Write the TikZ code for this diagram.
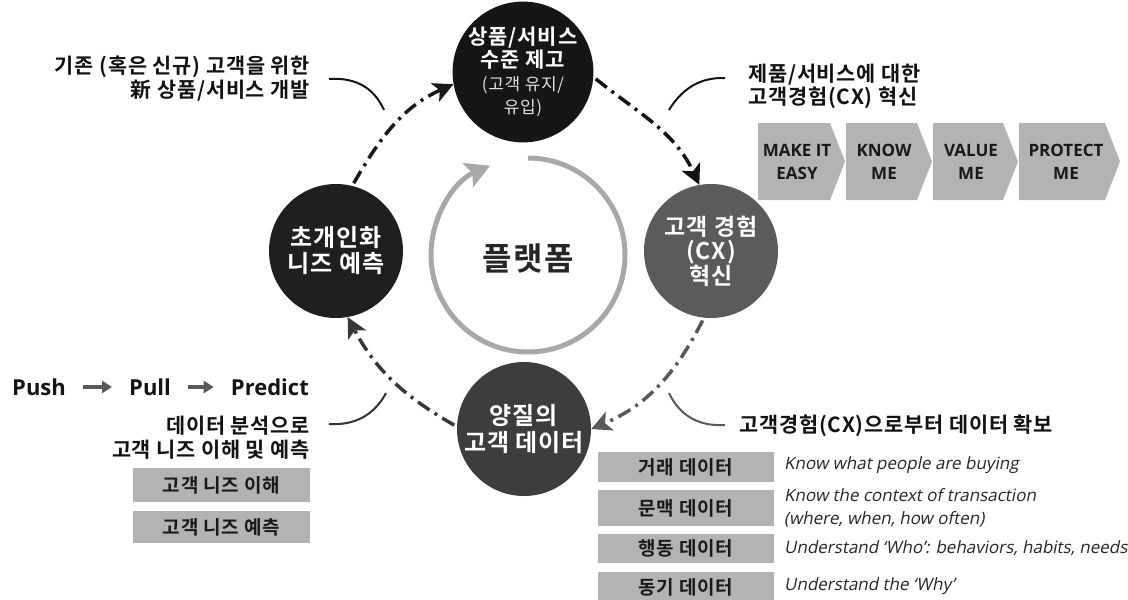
\documentclass[tikz,border=0pt]{standalone}
\usepackage{fontspec}
\setmainfont{Noto Sans CJK KR}[BoldFont={Noto Sans CJK KR Bold}, LetterSpace=4]
\newfontfamily\enfont{Open Sans}
\newfontfamily\slfont{Open Sans}[FakeSlant=0.2]
\usetikzlibrary{arrows.meta}
\definecolor{topfill}{HTML}{151515}
\definecolor{leftfill}{HTML}{1F1F1F}
\definecolor{rightfill}{HTML}{5B5B5B}
\definecolor{bottomfill}{HTML}{3D3D3D}
\definecolor{boxgray}{HTML}{B3B3B3}
\definecolor{innergray}{HTML}{A8A8A8}
\begin{document}
\begin{tikzpicture}[x=1pt,y=1pt,
 circ/.style={circle, minimum size=134pt, inner sep=0pt, text=white, align=center},
 cyc/.style={line width=3.5pt, dash pattern=on 14pt off 6pt on 3pt off 6pt, -{Stealth[length=20pt,width=20pt,inset=5pt]}, shorten <=3pt},
 lead/.style={line width=2pt},
 ann/.style={inner sep=0pt, font=\bfseries\fontsize{20.8}{23.5}\selectfont, text=black!93},
 gbox/.style={fill=boxgray, inner sep=0pt, font=\bfseries\fontsize{19}{22}\selectfont, text=black!90},
 itx/.style={inner sep=0pt, anchor=west, align=left, font=\slfont\fontsize{17}{23}\selectfont, text=black!85},
 chev/.style={fill=boxgray},
 chevtext/.style={inner sep=0pt, align=center, font=\enfont\bfseries\fontsize{17}{23}\selectfont, text=black!90},
 pp/.style={inner sep=0pt, font=\enfont\bfseries\fontsize{22}{26}\selectfont, text=black!92},
 pparrow/.style={line width=4pt, draw=black!65, -{Triangle[length=10pt,width=12pt]}, shorten <=17pt, shorten >=17pt}
]
\fill[white] (0,0) rectangle (1128,-600);
\useasboundingbox (0,0) rectangle (1128,-600);

% inner platform cycle
\draw[line width=5pt, draw=innergray, -{Stealth[length=24pt,width=26pt,inset=5pt]}] (528,-158) arc[start angle=90, end angle=-247, radius=97];
\node[font=\bfseries\fontsize{32}{36}\selectfont, text=black!85] (plat) at (528,-258) {플랫폼};

% main circles
\node[circ, fill=topfill, font=\bfseries\fontsize{21}{23}\selectfont] (top) at (523,-72)
  {상품/서비스\\수준 제고\\{\mdseries\fontsize{17}{23}\selectfont\color{white!88!black}(고객 유지/}\\{\mdseries\fontsize{17}{23}\selectfont\color{white!88!black}유입)}};
\node[circ, fill=rightfill, font=\bfseries\fontsize{23}{24}\selectfont] (right) at (711,-251) {고객 경험\\(CX)\\혁신};
\node[circ, fill=leftfill, font=\bfseries\fontsize{24}{26}\selectfont] (left) at (336,-251) {초개인화\\니즈 예측};
\node[circ, fill=bottomfill, font=\bfseries\fontsize{24}{27}\selectfont] (bottom) at (524,-429) {양질의\\고객 데이터};

% cycle arrows
\draw[cyc, draw=black!90] (left.76) to[out=60, in=204] (top.190);
\draw[cyc, draw=black!93] (top.-4) to[out=-39, in=115] (right.100);
\draw[cyc, draw=black!65] (right.-96) to[out=-117, in=23] (bottom.0);
\draw[cyc, draw=black!78] (bottom.178) to[out=150, in=-62] (left.-80);

% annotations
\node[ann, anchor=east, align=right] (ann1) at (310,-78.5) {기존 (혹은 신규) 고객을 위한\\新 상품/서비스 개발};
\node[ann, anchor=west, align=left] (ann2) at (748,-86.5) {제품/서비스에 대한\\고객경험(CX) 혁신};
\node[ann, anchor=east, align=right] (ann3) at (310,-437.5) {데이터 분석으로\\고객 니즈 이해 및 예측};
\node[ann, anchor=west] (ann4) at (739,-426) {고객경험(CX)으로부터 데이터 확보};

% leader curves
\coordinate (l1s) at (329,-79); \coordinate (l1e) at (384,-110);
\draw[lead, draw=black!92] (l1s) .. controls (358,-77) and (375,-90) .. (l1e);
\coordinate (l2s) at (725,-78); \coordinate (l2e) at (669,-110);
\draw[lead, draw=black!92] (l2s) .. controls (697,-77) and (680,-92) .. (l2e);
\coordinate (l3s) at (329,-424); \coordinate (l3e) at (386,-393);
\draw[lead, draw=black!80] (l3s) .. controls (360,-426) and (377,-410) .. (l3e);
\coordinate (l4s) at (725,-425); \coordinate (l4e) at (669,-393);
\draw[lead, draw=black!65] (l4s) .. controls (693,-427) and (677,-410) .. (l4e);

% chevrons
\fill[chev] (758,-123) -- (830,-123) -- (845,-161.5) -- (830,-200) -- (758,-200) -- cycle;
\fill[chev] (846,-123) -- (917,-123) -- (932,-161.5) -- (917,-200) -- (846,-200) -- cycle;
\fill[chev] (933,-123) -- (1003,-123) -- (1018,-161.5) -- (1003,-200) -- (933,-200) -- cycle;
\fill[chev] (1019,-123) -- (1105,-123) -- (1120,-161.5) -- (1105,-200) -- (1019,-200) -- cycle;
\node[chevtext] (c1) at (797,-161.5) {MAKE IT\\EASY};
\node[chevtext] (c2) at (884,-161.5) {KNOW\\ME};
\node[chevtext] (c3) at (971,-161.5) {VALUE\\ME};
\node[chevtext] (c4) at (1066,-161.5) {PROTECT\\ME};

% push pull predict
\node[pp, anchor=west] (push) at (12,-387) {Push};
\node[pp, anchor=west] (pull) at (129,-387) {Pull};
\node[pp, anchor=east] (pred) at (309,-387) {Predict};
\draw[pparrow] (push.east) -- (pull.west);
\draw[pparrow] (pull.east) -- (pred.west);

% left boxes
\node[gbox, minimum width=177pt, minimum height=34pt] (nb1) at (221.5,-485) {고객 니즈 이해};
\node[gbox, minimum width=177pt, minimum height=32pt] (nb2) at (221.5,-527) {고객 니즈 예측};

% data boxes
\node[gbox, minimum width=176pt, minimum height=30pt] (d1) at (686,-467) {거래 데이터};
\node[gbox, minimum width=176pt, minimum height=36pt] (d2) at (686,-508) {문맥 데이터};
\node[gbox, minimum width=176pt, minimum height=29pt] (d3) at (686,-548.5) {행동 데이터};
\node[gbox, minimum width=176pt, minimum height=30pt] (d4) at (686,-587) {동기 데이터};
\node[itx] (t1) at (784,-465) {Know what people are buying};
\node[itx] (t2) at (784,-507.5) {Know the context of transaction\\(where, when, how often)};
\node[itx] (t3) at (784,-548) {Understand ‘Who’: behaviors, habits, needs};
\node[itx] (t4) at (784,-586) {Understand the ‘Why’};
\end{tikzpicture}
\end{document}
